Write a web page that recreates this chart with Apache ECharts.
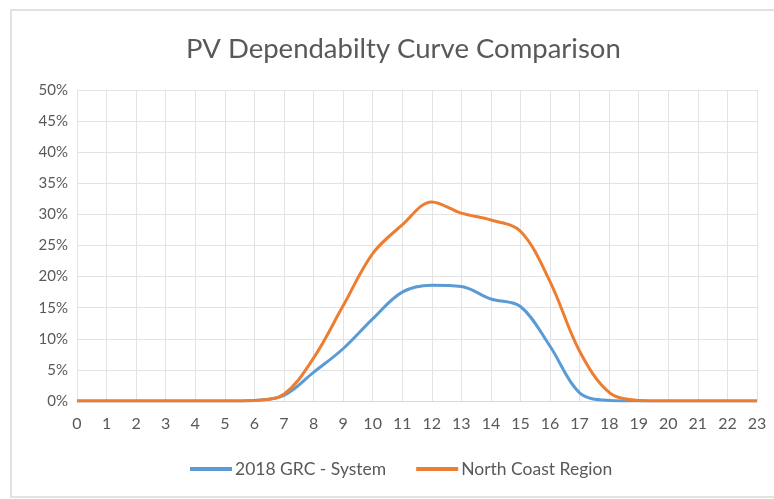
<!DOCTYPE html>
<html>
<head>
<meta charset="utf-8">
<script src="https://cdn.jsdelivr.net/npm/echarts@6/dist/echarts.min.js"></script>
<style>
html, body { margin: 0; padding: 0; background: #fff; }
#chart { width: 774px; height: 499px; }
</style>
</head>
<body>
<div id="chart"></div>
<script>
// Hour of day (0-23)
const hours = ['0','1','2','3','4','5','6','7','8','9','10','11','12','13','14','15','16','17','18','19','20','21','22','23'];

// Dependability (%) by hour
const grcSystem = [0, 0, 0, 0, 0, 0, 0.1, 0.9, 4.6, 8.4, 13.2, 17.5, 18.6, 18.4, 16.4, 15.2, 8.8, 1.3, 0.1, 0, 0, 0, 0, 0];
const northCoast = [0, 0, 0, 0, 0, 0, 0.1, 1.1, 6.9, 15.3, 23.7, 28.3, 32.0, 30.2, 29.1, 27.3, 19.2, 8.0, 1.4, 0.1, 0, 0, 0, 0];

const seriesNames = ['2018 GRC - System', 'North Coast Region'];
const seriesColors = ['#5B9BD5', '#ED7D31'];

const font = 'Lato, "Open Sans", sans-serif';
const textColor = '#595959';

const chart = echarts.init(document.getElementById('chart'), null, { renderer: 'canvas' });

chart.setOption({
  animation: false,
  backgroundColor: '#ffffff',
  graphic: [{
    type: 'rect',
    shape: { x: 11, y: 10, width: 800, height: 487 },
    style: { fill: 'none', stroke: '#d9d9d9', lineWidth: 1.5 },
    silent: true,
    z: -1
  }],
  title: {
    text: 'PV Dependabilty Curve Comparison',
    left: 181,
    top: 30,
    textStyle: { fontFamily: font, fontSize: 27.5, fontWeight: 'normal', color: textColor }
  },
  legend: {
    bottom: 16,
    left: 185,
    itemWidth: 42,
    itemHeight: 4,
    itemGap: 30,
    icon: 'rect',
    textStyle: { fontFamily: font, fontSize: 17.5, color: textColor, padding: [0, 0, 0, -2] },
    data: seriesNames
  },
  grid: { left: 77, right: 17, top: 90, bottom: 98 },
  xAxis: {
    type: 'category',
    data: hours,
    boundaryGap: false,
    axisLine: { show: true, lineStyle: { color: '#d9d9d9' } },
    axisTick: { show: false },
    axisLabel: { fontFamily: font, fontSize: 16, color: textColor, margin: 15, interval: 0 },
    splitLine: { show: true, lineStyle: { color: '#e3e3e3', width: 1 } }
  },
  yAxis: {
    type: 'value',
    min: 0,
    max: 50,
    interval: 5,
    axisLine: { show: false },
    axisTick: { show: false },
    axisLabel: { fontFamily: font, fontSize: 15, color: textColor, margin: 9, formatter: '{value}%' },
    splitLine: { lineStyle: { color: '#e3e3e3', width: 1 } }
  },
  series: [
    {
      name: seriesNames[0],
      type: 'line',
      data: grcSystem,
      smooth: 0.35,
      showSymbol: false,
      lineStyle: { width: 3, color: seriesColors[0] },
      itemStyle: { color: seriesColors[0] },
      z: 2
    },
    {
      name: seriesNames[1],
      type: 'line',
      data: northCoast,
      smooth: 0.35,
      showSymbol: false,
      lineStyle: { width: 3, color: seriesColors[1] },
      itemStyle: { color: seriesColors[1] },
      z: 3
    }
  ]
});
</script>
</body>
</html>
